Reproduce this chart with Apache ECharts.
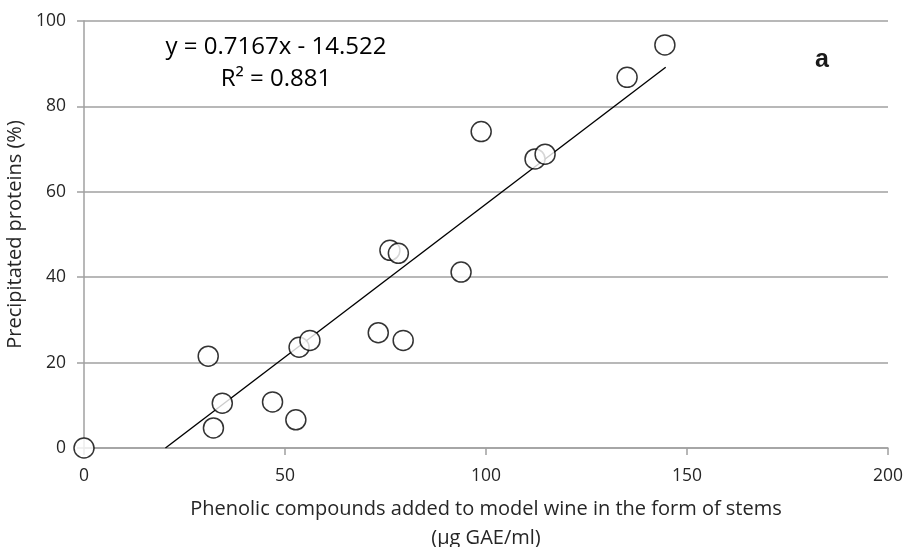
<!DOCTYPE html>
<html>
<head>
<meta charset="utf-8">
<script src="https://cdn.jsdelivr.net/npm/echarts@6/dist/echarts.min.js"></script>
<style>
  html, body { margin: 0; padding: 0; background: #fff; }
  #chart { width: 904px; height: 547px; }
</style>
</head>
<body>
<div id="chart"></div>
<script>
// Phenolic compounds added (µg GAE/ml) vs precipitated proteins (%)
const phenolics = [0, 30.9, 32.2, 34.4, 46.9, 52.7, 53.5, 56.2, 73.2, 79.4, 76.1, 78.2, 93.8, 98.8, 112.2, 114.7, 135.1, 144.5];
const proteins  = [0, 21.5, 4.7, 10.5, 10.8, 6.6, 23.6, 25.2, 27.0, 25.2, 46.3, 45.6, 41.2, 74.1, 67.7, 68.8, 86.8, 94.4];

// Linear fit reported on the chart
const slope = 0.7167;
const intercept = -14.522;
const fitRange = [-intercept / slope, 144.7];

const xTicks = [0, 50, 100, 150, 200];
const yTicks = [0, 20, 40, 60, 80, 100];

const points = phenolics.map((x, i) => [x, proteins[i]]);
const fitLine = fitRange.map(x => [x, slope * x + intercept]);

const font = '"Open Sans", "Noto Sans", sans-serif';

const chart = echarts.init(document.getElementById('chart'));
chart.setOption({
  animation: false,
  backgroundColor: '#ffffff',
  grid: { left: 84, right: 16, top: 21, bottom: 99, containLabel: false, outerBoundsMode: 'none' },
  xAxis: {
    type: 'value',
    min: xTicks[0],
    max: xTicks[xTicks.length - 1],
    interval: 50,
    name: 'Phenolic compounds added to model wine in the form of stems\n(µg GAE/ml)',
    nameLocation: 'middle',
    nameGap: 47,
    nameTextStyle: { fontFamily: font, fontSize: 20, color: '#262626', lineHeight: 29 },
    axisLine: { show: true, lineStyle: { color: '#a0a0a0', width: 1.5 } },
    axisTick: { show: true, inside: false, length: 7, lineStyle: { color: '#a0a0a0', width: 1.5 } },
    axisLabel: { fontFamily: font, fontSize: 17.5, color: '#262626', margin: 19 },
    splitLine: { show: false }
  },
  yAxis: {
    type: 'value',
    min: yTicks[0],
    max: yTicks[yTicks.length - 1],
    interval: 20,
    name: 'Precipitated proteins (%)',
    nameLocation: 'middle',
    nameGap: 51,
    nameTextStyle: { fontFamily: font, fontSize: 20, color: '#262626' },
    axisLine: { show: true, lineStyle: { color: '#a0a0a0', width: 1.5 } },
    axisTick: { show: true, inside: false, length: 7, lineStyle: { color: '#a0a0a0', width: 1.5 } },
    axisLabel: { fontFamily: font, fontSize: 17.5, color: '#262626', margin: 18 },
    splitLine: { show: true, lineStyle: { color: '#a0a0a0', width: 1.5 } }
  },
  series: [
    {
      type: 'line',
      data: fitLine,
      symbol: 'none',
      lineStyle: { color: '#000', width: 1.4 },
      z: 2
    },
    {
      type: 'scatter',
      data: points,
      symbol: 'circle',
      symbolSize: 20,
      itemStyle: { color: '#ffffff', borderColor: '#000000', borderWidth: 1.5 },
      z: 3
    }
  ],
  graphic: [
    {
      type: 'text',
      x: 276, y: 47,
      style: { text: 'y = 0.7167x - 14.522', fontFamily: font, fontSize: 24, fill: '#000', align: 'center', verticalAlign: 'middle' }
    },
    {
      type: 'text',
      x: 276, y: 79,
      style: { text: 'R² = 0.881', fontFamily: font, fontSize: 24, fill: '#000', align: 'center', verticalAlign: 'middle' }
    },
    {
      type: 'text',
      x: 822, y: 60,
      style: { text: 'a', fontFamily: 'Liberation Sans, Arial, sans-serif', fontWeight: 'bold', fontSize: 25, fill: '#1a1a1a', align: 'center', verticalAlign: 'middle' }
    }
  ]
});
</script>
</body>
</html>
